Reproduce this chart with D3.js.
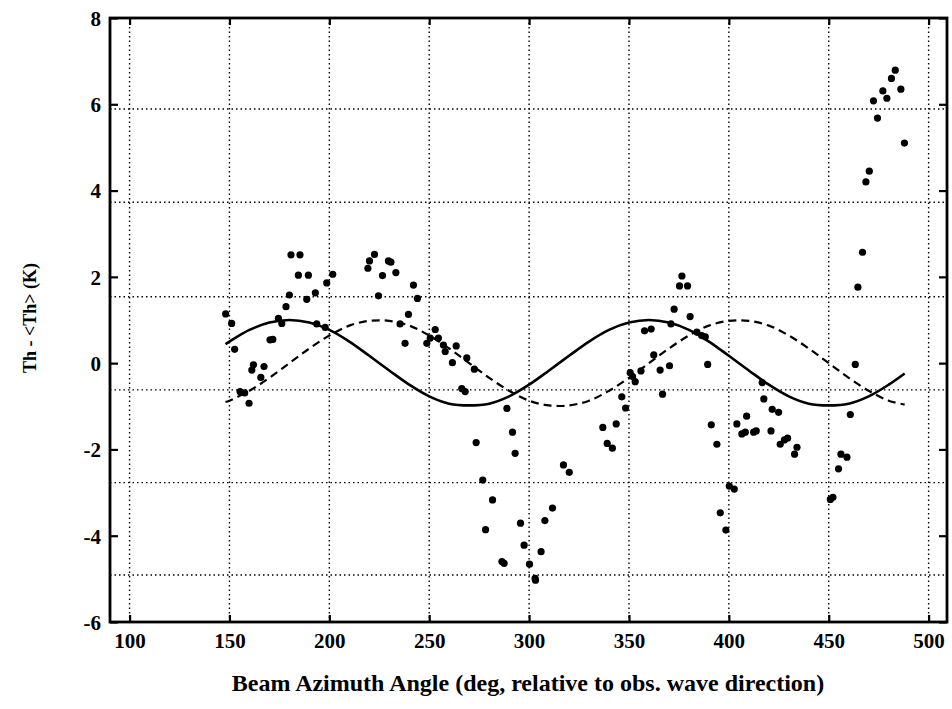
<!DOCTYPE html>
<html>
<head>
<meta charset="utf-8">
<script src="https://cdn.jsdelivr.net/npm/d3@7/dist/d3.min.js"></script>
<style>
  html, body { margin: 0; padding: 0; background: #fff; }
  svg { display: block; }
  text { font-family: "Liberation Serif", "Times New Roman", serif; font-weight: bold; fill: #000; }
</style>
</head>
<body>
<svg id="chart" width="952" height="709"></svg>
<script>
// Measured brightness-temperature anomaly vs. beam azimuth
const azimuth = [148.1, 151.1, 152.6, 155.3, 157.6, 159.8, 161.2, 162.0, 165.7, 167.3,
  170.3, 171.7, 174.5, 176.2, 178.3, 180.0, 180.8, 185.3, 184.5, 189.5,
  188.7, 193.0, 193.7, 197.9, 198.7, 201.7, 219.3, 220.1, 222.6, 226.6,
  224.6, 229.6, 230.8, 233.3, 235.4, 237.9, 239.6, 242.1, 244.1, 248.8,
  250.5, 253.0, 254.6, 257.1, 258.0, 263.5, 261.6, 268.8, 272.6, 266.3,
  268.0, 288.9, 273.5, 291.7, 293.0, 276.8, 281.7, 278.2, 286.4, 287.5,
  295.7, 297.5, 300.2, 303.0, 303.2, 306.0, 307.9, 311.7, 317.2, 320.1,
  336.9, 339.1, 341.7, 343.6, 346.4, 348.3, 350.6, 351.8, 353.1, 356.0,
  357.8, 361.1, 362.4, 365.6, 366.8, 370.3, 371.0, 372.6, 375.3, 376.5,
  379.3, 380.6, 384.0, 386.4, 388.2, 389.4, 391.2, 394.0, 395.7, 398.5,
  400.2, 402.7, 404.0, 406.5, 408.2, 408.9, 412.4, 413.7, 416.7, 417.5,
  421.1, 421.7, 424.9, 425.7, 427.8, 429.4, 432.9, 434.1, 450.8, 452.1,
  454.9, 456.1, 459.1, 460.8, 463.3, 464.6, 466.9, 468.6, 470.3, 472.4,
  474.4, 477.1, 479.1, 481.4, 483.3, 486.1, 487.9];
const thAnomaly = [1.14, 0.92, 0.32, -0.66, -0.69, -0.93, -0.16, -0.04, -0.33, -0.08,
  0.54, 0.55, 1.04, 0.92, 1.31, 1.58, 2.51, 2.51, 2.04, 2.04,
  1.48, 1.63, 0.91, 0.83, 1.86, 2.06, 2.20, 2.37, 2.52, 2.03,
  1.56, 2.37, 2.34, 2.10, 0.91, 0.46, 1.13, 1.81, 1.50, 0.46,
  0.58, 0.78, 0.58, 0.42, 0.27, 0.40, 0.01, 0.12, -0.14, -0.59,
  -0.66, -1.05, -1.84, -1.60, -2.09, -2.71, -3.17, -3.86, -4.60, -4.64,
  -3.71, -4.22, -4.66, -4.99, -5.03, -4.37, -3.65, -3.36, -2.36, -2.53,
  -1.49, -1.86, -1.97, -1.41, -0.78, -1.04, -0.22, -0.31, -0.43, -0.18,
  0.75, 0.79, 0.19, -0.16, -0.72, -0.06, 0.91, 1.25, 1.79, 2.02,
  1.79, 1.08, 0.72, 0.64, 0.61, -0.03, -1.43, -1.88, -3.47, -3.87,
  -2.85, -2.92, -1.41, -1.64, -1.60, -1.23, -1.60, -1.57, -0.45, -0.83,
  -1.57, -1.07, -1.14, -1.88, -1.78, -1.74, -2.11, -1.95, -3.16, -3.11,
  -2.45, -2.11, -2.18, -1.19, -0.03, 1.76, 2.57, 4.20, 4.45, 6.08,
  5.68, 6.31, 6.14, 6.60, 6.79, 6.35, 5.10];

// Fitted harmonic curves
const fitAzimuth = [148, 150, 160, 170, 180, 190, 200, 210, 220, 230, 240, 250, 260, 270,
  280, 290, 300, 310, 320, 330, 340, 350, 360, 370, 380, 390, 400, 410,
  420, 430, 440, 450, 460, 470, 480, 488];
const fitSolid = [0.44, 0.50, 0.77, 0.94, 1.00, 0.94, 0.77, 0.50, 0.17, -0.17, -0.50, -0.77, -0.94, -0.98,
  -0.94, -0.77, -0.50, -0.17, 0.17, 0.50, 0.77, 0.94, 1.00, 0.94, 0.77, 0.50, 0.17, -0.17,
  -0.50, -0.77, -0.94, -0.98, -0.94, -0.77, -0.50, -0.24];
const fitDashed = [-0.90, -0.87, -0.64, -0.34, 0.00, 0.34, 0.64, 0.87, 0.98, 0.98, 0.87, 0.64, 0.34, 0.00,
  -0.34, -0.64, -0.87, -0.98, -0.98, -0.87, -0.64, -0.34, 0.00, 0.34, 0.64, 0.87, 0.98, 0.98,
  0.87, 0.64, 0.34, 0.00, -0.34, -0.64, -0.87, -0.96];

// Axis ticks and grid
const xTicks = [100, 150, 200, 250, 300, 350, 400, 450, 500];
const yTicks = [-6, -4, -2, 0, 2, 4, 6, 8];
const yGrid = [5.89, 3.73, 1.54, -0.62, -2.77, -4.91];

const xLabel = "Beam Azimuth Angle (deg, relative to obs. wave direction)";
const yLabel = "Th - <Th> (K)";

const svg = d3.select("#chart");
const L = 110, R = 947, T = 18, B = 622;

const x = d3.scaleLinear().domain([90.2, 509.2]).range([L, R]);
const y = d3.scaleLinear().domain([-6, 8]).range([B, T]);

// dotted grid
const grid = svg.append("g").attr("stroke", "#000").attr("stroke-width", 1.4)
  .attr("stroke-dasharray", "1.5,3").attr("fill", "none");
grid.selectAll(".gx").data(xTicks).join("line")
  .attr("x1", d => x(d)).attr("x2", d => x(d)).attr("y1", T).attr("y2", B);
grid.selectAll(".gy").data(yGrid).join("line")
  .attr("x1", L).attr("x2", R).attr("y1", d => y(d)).attr("y2", d => y(d));

// axes with inward ticks; labels use a plain hyphen for negatives
const fmt = d => String(d);
const axB = svg.append("g").attr("transform", `translate(0,${B})`)
  .call(d3.axisBottom(x).tickValues(xTicks).tickSizeInner(-7).tickSizeOuter(0).tickPadding(11).tickFormat(fmt));
const axT = svg.append("g").attr("transform", `translate(0,${T})`)
  .call(d3.axisTop(x).tickValues(xTicks).tickSizeInner(-7).tickSizeOuter(0).tickFormat(""));
const axL = svg.append("g").attr("transform", `translate(${L},0)`)
  .call(d3.axisLeft(y).tickValues(yTicks).tickSizeInner(-8).tickSizeOuter(0).tickPadding(9).tickFormat(fmt));
const axR = svg.append("g").attr("transform", `translate(${R},0)`)
  .call(d3.axisRight(y).tickValues(yTicks).tickSizeInner(-8).tickSizeOuter(0).tickFormat(""));

[axB, axT, axL, axR].forEach(a => {
  a.select(".domain").remove();
  a.selectAll(".tick line").attr("stroke", "#000").attr("stroke-width", 2.2);
  a.selectAll("text").attr("font-family", "Liberation Serif, serif")
    .attr("font-weight", "bold").attr("font-size", 21).attr("fill", "#000");
});
axL.selectAll("text").attr("dy", "0.35em");

// frame
svg.append("rect").attr("x", L).attr("y", T).attr("width", R - L).attr("height", B - T)
  .attr("fill", "none").attr("stroke", "#000").attr("stroke-width", 2.8);

// fitted curves
const line = d3.line().curve(d3.curveCatmullRom)
  .x((d, i) => x(fitAzimuth[i])).y(d => y(d));
svg.append("path").datum(fitSolid).attr("d", line)
  .attr("fill", "none").attr("stroke", "#000").attr("stroke-width", 2.6);
svg.append("path").datum(fitDashed).attr("d", line)
  .attr("fill", "none").attr("stroke", "#000").attr("stroke-width", 2.2)
  .attr("stroke-dasharray", "8,5");

// data points
svg.append("g").selectAll("circle").data(azimuth).join("circle")
  .attr("cx", d => x(d)).attr("cy", (d, i) => y(thAnomaly[i])).attr("r", 3.6).attr("fill", "#000");

// axis titles
svg.append("text").attr("x", 528).attr("y", 691).attr("text-anchor", "middle")
  .attr("font-size", 24).text(xLabel);
svg.append("text").attr("transform", "translate(36,318) rotate(-90)").attr("text-anchor", "middle")
  .attr("font-size", 18).text(yLabel);
</script>
</body>
</html>
